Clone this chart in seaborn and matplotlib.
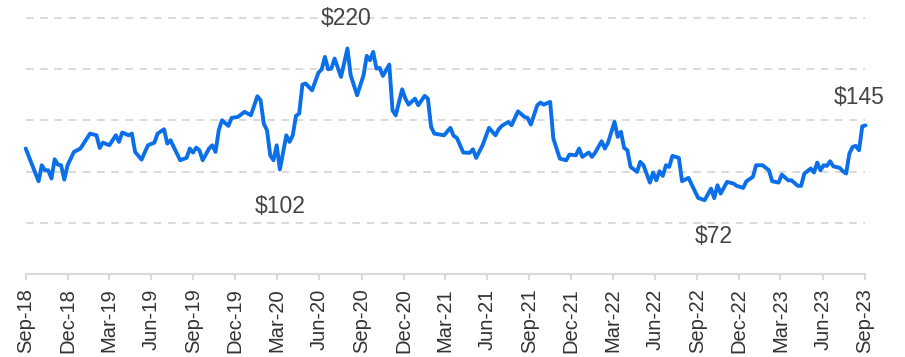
import matplotlib
matplotlib.use("Agg")
import matplotlib.pyplot as plt
import matplotlib.dates as mdates
import numpy as np
import pandas as pd
import seaborn as sns

# Weekly closing prices: weeks counted from 1 Sep 2018, price in dollars
weeks = [0, 4, 5, 6, 7, 8, 9, 10, 11, 12, 13, 15, 17, 20, 22, 23, 24, 26, 28, 29,
         30, 32, 33, 34, 36, 38, 40, 41, 43, 44, 45, 48, 50, 51, 52, 53, 54, 55, 57, 58,
         59, 60, 61, 63, 64, 66, 68, 70, 72, 73, 74, 75, 76, 77, 78, 79, 81, 82, 83, 84,
         85, 86, 87, 89, 91, 92, 93, 94, 95, 96, 98, 100, 101, 103, 105, 106, 107, 108, 109, 110,
         111, 113, 114, 115, 117, 118, 119, 121, 122, 124, 125, 126, 127, 130, 132, 133, 134, 136, 138, 139,
         140, 142, 144, 146, 147, 148, 150, 151, 153, 155, 156, 157, 159, 160, 161, 163, 164, 166, 168, 169,
         171, 172, 173, 175, 176, 177, 179, 180, 181, 183, 184, 185, 186, 187, 188, 190, 191, 192, 194, 195,
         196, 197, 198, 199, 200, 201, 203, 204, 206, 208, 209, 211, 213, 214, 215, 216, 218, 220, 221, 223,
         224, 226, 227, 229, 231, 232, 234, 235, 237, 238, 240, 241, 242, 244, 245, 246, 247, 248, 249, 250,
         251, 253, 254, 255, 256, 257, 258, 259, 260, 261]
prices = [122.4, 90.5, 106.1, 101.2, 101.2, 93.1, 111.9, 106.7, 106.1, 92.1, 106.1, 119.1, 122.4, 137.0, 135.3, 123.0, 128.2, 125.6, 135.3, 128.9,
          138.0, 135.3, 137.0, 119.1, 111.6, 125.6, 128.2, 137.0, 141.2, 127.2, 130.5, 111.0, 113.3, 122.4, 118.5, 123.3, 120.7, 111.0, 122.4, 125.6,
          119.1, 140.2, 150.0, 144.5, 152.3, 153.3, 158.2, 154.9, 173.4, 169.5, 146.7, 140.2, 115.8, 111.0, 125.6, 102.0, 135.3, 128.9, 135.3, 154.3,
          156.5, 184.8, 185.8, 179.2, 196.5, 199.7, 211.8, 199.7, 200.4, 210.2, 192.3, 220.0, 193.9, 174.4, 193.9, 212.8, 208.5, 216.7, 200.4, 201.1,
          193.3, 204.3, 159.7, 154.8, 180.2, 171.1, 165.3, 171.1, 164.6, 173.8, 171.1, 143.5, 137.0, 135.3, 142.6, 134.8, 132.8, 118.5, 118.2, 121.7,
          113.3, 125.6, 142.6, 135.3, 141.2, 144.5, 148.4, 145.1, 158.7, 153.3, 152.3, 145.8, 164.6, 167.2, 165.3, 167.9, 132.1, 112.6, 110.9, 116.5,
          115.8, 122.4, 114.3, 118.5, 114.3, 118.5, 129.5, 122.4, 128.2, 148.4, 133.8, 138.7, 123.0, 120.7, 104.5, 99.6, 109.4, 106.1, 89.2, 99.0,
          91.4, 100.2, 95.7, 106.1, 104.5, 115.2, 113.3, 90.5, 93.8, 80.7, 74.2, 72.0, 83.3, 74.0, 86.6, 78.5, 89.9, 88.2, 86.0, 84.0,
          90.5, 94.7, 106.1, 106.1, 101.2, 90.5, 89.2, 97.0, 91.4, 91.4, 86.0, 86.0, 98.0, 102.9, 99.0, 108.7, 101.2, 106.1, 105.5, 110.0,
          105.1, 103.5, 100.2, 98.0, 117.5, 124.0, 125.0, 120.7, 144.0, 145.0]

# Labelled points: (week, text, x offset px, y offset px)
callouts = [(100, "$220", -1, 30), (79, "$102", 0, -37), (211, "$72", 9, -36), (261, "$145", -6, 28)]

start = pd.Timestamp("2018-09-01")
df = pd.DataFrame({
    "date": start + pd.to_timedelta(np.array(weeks) * 7, unit="D"),
    "price": prices,
})

sns.set_theme(style="white")
plt.rcParams["font.family"] = ["Liberation Sans", "DejaVu Sans"]

W, H = 905, 357
fig = plt.figure(figsize=(W / 100, H / 100), dpi=100)
left, right, top, bottom = 25.7, 865, 7.5, 274
ax = fig.add_axes([left / W, 1 - bottom / H, (right - left) / W, (bottom - top) / H])

blue = "#0a6fe8"
sns.lineplot(data=df, x="date", y="price", ax=ax, color=blue, linewidth=2.8,
             solid_joinstyle="round", clip_on=False)

ax.set_ylim(0, 260)
ax.set_xlim(pd.Timestamp("2018-09-01"), pd.Timestamp("2023-09-01"))

# dashed horizontal guides
for level in [50, 100, 150, 200, 250]:
    ax.axhline(level, color="#d9d9d9", linewidth=1.4, linestyle=(0, (3.9, 3.4)), zorder=0)

ax.set_yticks([])
ax.set_xlabel("")
ax.set_ylabel("")
for side in ["top", "right", "left"]:
    ax.spines[side].set_visible(False)
ax.spines["bottom"].set_color("#d9d9d9")
ax.spines["bottom"].set_linewidth(1.5)

ax.xaxis.set_major_locator(mdates.MonthLocator(bymonth=[3, 6, 9, 12], bymonthday=1))
ax.xaxis.set_major_formatter(mdates.DateFormatter("%b-%y"))
ax.tick_params(axis="x", which="major", direction="out", length=4.5, width=1.5,
               color="#d9d9d9", labelcolor="#333333", labelsize=14.5, pad=6,
               labelrotation=90, bottom=True)

for wk, text, dx, dy in callouts:
    d = start + pd.Timedelta(days=wk * 7)
    val = prices[weeks.index(wk)]
    ax.annotate(text, xy=(d, val), xytext=(dx * 0.72, dy * 0.72), textcoords="offset points",
                ha="center", va="center", fontsize=16.5, color="#444444",
                annotation_clip=False)

fig.savefig("out.png", dpi=100)
